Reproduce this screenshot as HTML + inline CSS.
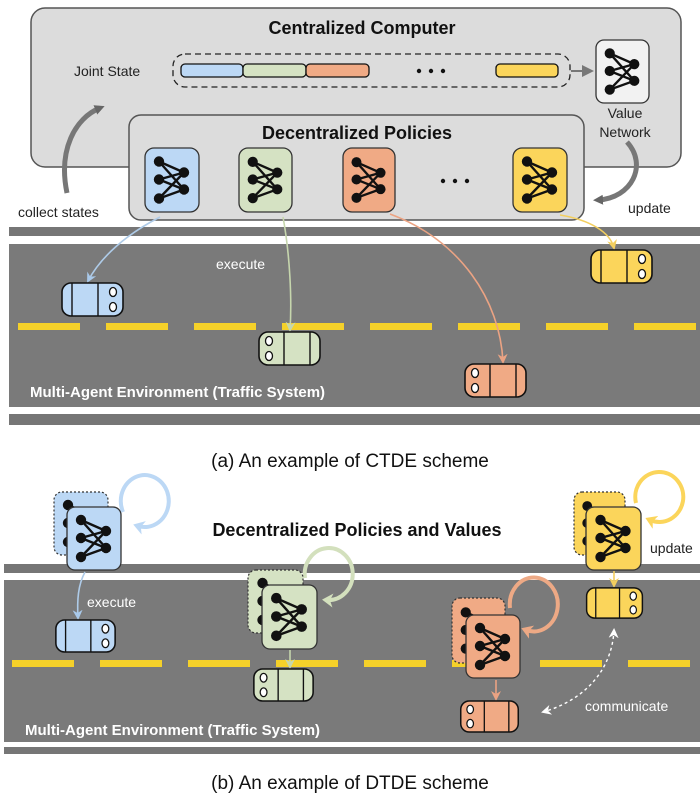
<!DOCTYPE html>
<html><head><meta charset="utf-8"><style>
html,body{margin:0;padding:0;background:#fff}
svg{display:block;font-family:"Liberation Sans",Arial,sans-serif}
</style></head><body>
<svg width="700" height="803" viewBox="0 0 700 803" xmlns="http://www.w3.org/2000/svg">
<defs>
<symbol id="net" viewBox="0 0 54 63">
<g stroke="#111" stroke-width="2.4">
<line x1="14" y1="13" x2="39" y2="24"/><line x1="14" y1="13" x2="39" y2="41"/>
<line x1="14" y1="31" x2="39" y2="24"/><line x1="14" y1="31" x2="39" y2="41"/>
<line x1="14" y1="50" x2="39" y2="24"/><line x1="14" y1="50" x2="39" y2="41"/>
</g>
<g fill="#111"><circle cx="14" cy="13" r="5.2"/><circle cx="14" cy="31" r="5.2"/><circle cx="14" cy="50" r="5.2"/><circle cx="39" cy="24" r="5.2"/><circle cx="39" cy="41" r="5.2"/></g>
</symbol>
<symbol id="car" viewBox="0 0 63 35">
<rect x="1" y="1" width="61" height="33" rx="9" stroke="#111" stroke-width="1.6"/>
<line x1="11" y1="1" x2="11" y2="34" stroke="#111" stroke-width="1.4"/>
<line x1="37" y1="1" x2="37" y2="34" stroke="#111" stroke-width="1.4"/>
<ellipse cx="52" cy="10" rx="3.5" ry="4.5" fill="#fff" stroke="#111" stroke-width="1.3"/>
<ellipse cx="52" cy="25" rx="3.5" ry="4.5" fill="#fff" stroke="#111" stroke-width="1.3"/>
</symbol>
<marker id="mg" markerWidth="6" markerHeight="6" refX="4" refY="3" orient="auto" markerUnits="strokeWidth"><path d="M0,0 L6,3 L0,6 z" fill="#777"/></marker>
<marker id="mgs" markerWidth="10" markerHeight="10" refX="5" refY="5" orient="auto" markerUnits="userSpaceOnUse"><path d="M0,0 L10,5 L0,10 z" fill="#666"/></marker>
<marker id="mb" markerWidth="10" markerHeight="10" refX="8" refY="5" orient="auto" markerUnits="userSpaceOnUse"><path d="M0,0 L10,5 L0,10 L3,5 z" fill="#a9c9ea"/></marker>
<marker id="mgr" markerWidth="10" markerHeight="10" refX="8" refY="5" orient="auto" markerUnits="userSpaceOnUse"><path d="M0,0 L10,5 L0,10 L3,5 z" fill="#c6d6ad"/></marker>
<marker id="mo" markerWidth="10" markerHeight="10" refX="8" refY="5" orient="auto" markerUnits="userSpaceOnUse"><path d="M0,0 L10,5 L0,10 L3,5 z" fill="#eba383"/></marker>
<marker id="my" markerWidth="10" markerHeight="10" refX="8" refY="5" orient="auto" markerUnits="userSpaceOnUse"><path d="M0,0 L10,5 L0,10 L3,5 z" fill="#f3cf5f"/></marker>
<marker id="mw" markerWidth="10" markerHeight="10" refX="8" refY="5" orient="auto-start-reverse" markerUnits="userSpaceOnUse"><path d="M0,0 L10,5 L0,10 L3,5 z" fill="#fff"/></marker>
<marker id="lb" markerWidth="14" markerHeight="14" refX="6" refY="7" orient="auto" markerUnits="userSpaceOnUse"><path d="M0,0 L11,7 L0,14 L3,7 z" fill="#bcd8f5"/></marker>
<marker id="lg" markerWidth="14" markerHeight="14" refX="6" refY="7" orient="auto" markerUnits="userSpaceOnUse"><path d="M0,0 L11,7 L0,14 L3,7 z" fill="#d3e0bd"/></marker>
<marker id="lo" markerWidth="14" markerHeight="14" refX="6" refY="7" orient="auto" markerUnits="userSpaceOnUse"><path d="M0,0 L11,7 L0,14 L3,7 z" fill="#eda985"/></marker>
<marker id="ly" markerWidth="14" markerHeight="14" refX="6" refY="7" orient="auto" markerUnits="userSpaceOnUse"><path d="M0,0 L11,7 L0,14 L3,7 z" fill="#fbd55b"/></marker>
</defs>

<!-- TOP ROAD -->
<rect x="9" y="227" width="691" height="9" fill="#767676"/>
<rect x="9" y="244" width="691" height="163" fill="#7a7a7a"/>
<rect x="9" y="414" width="691" height="11" fill="#767676"/>
<g fill="#f5d12a">
<rect x="18" y="323" width="62" height="7"/><rect x="106" y="323" width="62" height="7"/><rect x="194" y="323" width="62" height="7"/><rect x="282" y="323" width="62" height="7"/><rect x="370" y="323" width="62" height="7"/><rect x="458" y="323" width="62" height="7"/><rect x="546" y="323" width="62" height="7"/><rect x="634" y="323" width="62" height="7"/>
</g>

<!-- Centralized box -->
<rect x="31" y="8" width="650" height="159" rx="14" fill="#dcdcdc" stroke="#555" stroke-width="1.5"/>
<text x="362" y="34" font-size="18" font-weight="bold" text-anchor="middle" fill="#111">Centralized Computer</text>
<text x="74" y="76" font-size="14" fill="#222">Joint State</text>
<rect x="173" y="54" width="397" height="33" rx="12" fill="none" stroke="#222" stroke-width="1.3" stroke-dasharray="6,4"/>
<rect x="181" y="64" width="62" height="13" rx="4" fill="#bcd8f5" stroke="#111" stroke-width="1.3"/>
<rect x="243" y="64" width="63" height="13" rx="4" fill="#d5e2c3" stroke="#111" stroke-width="1.3"/>
<rect x="306" y="64" width="63" height="13" rx="4" fill="#f0aa85" stroke="#111" stroke-width="1.3"/>
<rect x="496" y="64" width="62" height="13" rx="4" fill="#fbd55b" stroke="#111" stroke-width="1.3"/>
<g fill="#111"><circle cx="419" cy="71" r="2.2"/><circle cx="431" cy="71" r="2.2"/><circle cx="443" cy="71" r="2.2"/></g>
<line x1="571" y1="71" x2="590" y2="71" stroke="#777" stroke-width="2" marker-end="url(#mg)"/>
<rect x="596" y="40" width="53" height="63" rx="8" fill="#f2f2f2" stroke="#333" stroke-width="1.3"/>
<use href="#net" x="596" y="40" width="53" height="63"/>
<text x="625" y="118" font-size="14" text-anchor="middle" fill="#222">Value</text>
<text x="625" y="137" font-size="14" text-anchor="middle" fill="#222">Network</text>

<path d="M67,193 C58,150 75,118 100,108" fill="none" stroke="#777" stroke-width="5" marker-end="url(#mgs)"/>
<text x="18" y="217" font-size="14" fill="#222">collect states</text>
<path d="M627,142 C648,165 632,198 598,200" fill="none" stroke="#777" stroke-width="5" marker-end="url(#mgs)"/>
<text x="628" y="213" font-size="14" fill="#222">update</text>

<rect x="129" y="115" width="455" height="105" rx="12" fill="#dcdcdc" stroke="#555" stroke-width="1.5"/>
<text x="357" y="139" font-size="18" font-weight="bold" text-anchor="middle" fill="#111">Decentralized Policies</text>
<rect x="145" y="148" width="54" height="64" rx="9" fill="#bcd8f5" stroke="#333" stroke-width="1.3"/>
<use href="#net" x="145" y="148" width="54" height="64"/>
<rect x="239" y="148" width="53" height="64" rx="9" fill="#d5e2c3" stroke="#333" stroke-width="1.3"/>
<use href="#net" x="239" y="148" width="53" height="64"/>
<rect x="343" y="148" width="52" height="64" rx="9" fill="#f0aa85" stroke="#333" stroke-width="1.3"/>
<use href="#net" x="343" y="148" width="52" height="64"/>
<rect x="513" y="148" width="54" height="64" rx="9" fill="#fbd55b" stroke="#333" stroke-width="1.3"/>
<use href="#net" x="513" y="148" width="54" height="64"/>
<g fill="#111"><circle cx="443" cy="181" r="2.2"/><circle cx="455" cy="181" r="2.2"/><circle cx="467" cy="181" r="2.2"/></g>

<path d="M160,217 C125,235 100,258 88,281" fill="none" stroke="#aecbe8" stroke-width="1.6" marker-end="url(#mb)"/>
<path d="M283,217 C290,255 292,300 290,330" fill="none" stroke="#c6d6ad" stroke-width="1.6" marker-end="url(#mgr)"/>
<path d="M390,214 C460,240 500,300 503,362" fill="none" stroke="#eba383" stroke-width="1.6" marker-end="url(#mo)"/>
<path d="M560,215 C590,220 610,232 614,248" fill="none" stroke="#f3cf5f" stroke-width="1.6" marker-end="url(#my)"/>
<text x="216" y="269" font-size="14" fill="#fff">execute</text>

<use href="#car" x="61" y="282" width="63" height="35" fill="#bcd8f5"/>
<use href="#car" x="-321" y="331" width="63" height="35" fill="#d5e2c3" transform="scale(-1,1)"/>
<use href="#car" x="-527" y="363" width="63" height="35" fill="#f0aa85" transform="scale(-1,1)"/>
<use href="#car" x="590" y="249" width="63" height="35" fill="#fbd55b"/>
<text x="30" y="397" font-size="15" font-weight="bold" fill="#fff">Multi-Agent Environment (Traffic System)</text>

<text x="350" y="467" font-size="19" text-anchor="middle" fill="#111">(a) An example of CTDE scheme</text>

<!-- BOTTOM ROAD -->
<rect x="4" y="564" width="696" height="9" fill="#767676"/>
<rect x="4" y="580" width="696" height="162" fill="#7a7a7a"/>
<rect x="4" y="747" width="696" height="7" fill="#767676"/>
<g fill="#f5d12a">
<rect x="12" y="660" width="62" height="7"/><rect x="100" y="660" width="62" height="7"/><rect x="188" y="660" width="62" height="7"/><rect x="276" y="660" width="62" height="7"/><rect x="364" y="660" width="62" height="7"/><rect x="452" y="660" width="62" height="7"/><rect x="540" y="660" width="62" height="7"/><rect x="628" y="660" width="62" height="7"/>
</g>

<text x="357" y="536" font-size="18" font-weight="bold" text-anchor="middle" fill="#111">Decentralized Policies and Values</text>

<path d="M123,512 A24,26 0 1 1 138,526" fill="none" stroke="#bcd8f5" stroke-width="4" marker-end="url(#lb)"/>
<rect x="54" y="492" width="54" height="63" rx="8" fill="#bcd8f5" stroke="#333" stroke-width="1.2" stroke-dasharray="2,2"/>
<use href="#net" x="54" y="492" width="54" height="63"/>
<rect x="67" y="507" width="54" height="63" rx="8" fill="#bcd8f5" stroke="#333" stroke-width="1.3"/>
<use href="#net" x="67" y="507" width="54" height="63"/>
<path d="M85,572 C78,585 77,600 78,618" fill="none" stroke="#aecbe8" stroke-width="1.6" marker-end="url(#mb)"/>
<text x="87" y="607" font-size="14" fill="#fff">execute</text>
<use href="#car" x="54" y="619" width="63" height="34" fill="#bcd8f5"/>

<path d="M305,578 A24,26 0 1 1 327,600" fill="none" stroke="#d3e0bd" stroke-width="4" marker-end="url(#lg)"/>
<rect x="248" y="570" width="55" height="63" rx="8" fill="#d5e2c3" stroke="#333" stroke-width="1.2" stroke-dasharray="2,2"/>
<use href="#net" x="248" y="570" width="55" height="63"/>
<rect x="262" y="585" width="55" height="64" rx="8" fill="#d5e2c3" stroke="#333" stroke-width="1.3"/>
<use href="#net" x="262" y="585" width="55" height="64"/>
<line x1="290" y1="650" x2="290" y2="667" stroke="#c6d6ad" stroke-width="1.6" marker-end="url(#mgr)"/>
<use href="#car" x="-315" y="668" width="63" height="34" fill="#d5e2c3" transform="scale(-1,1)"/>

<path d="M510,608 A24,27 0 1 1 526,630" fill="none" stroke="#eda985" stroke-width="4" marker-end="url(#lo)"/>
<rect x="452" y="598" width="53" height="65" rx="8" fill="#f0aa85" stroke="#333" stroke-width="1.2" stroke-dasharray="2,2"/>
<use href="#net" x="452" y="598" width="53" height="65"/>
<rect x="466" y="615" width="54" height="63" rx="8" fill="#f0aa85" stroke="#333" stroke-width="1.3"/>
<use href="#net" x="466" y="615" width="54" height="63"/>
<line x1="496" y1="680" x2="496" y2="699" stroke="#eba383" stroke-width="1.6" marker-end="url(#mo)"/>
<use href="#car" x="-520" y="700" width="61" height="33" fill="#f0aa85" transform="scale(-1,1)"/>

<path d="M636,503 A24,25 0 1 1 650,520" fill="none" stroke="#fbd55b" stroke-width="4" marker-end="url(#ly)"/>
<rect x="574" y="492" width="51" height="63" rx="8" fill="#fbd55b" stroke="#333" stroke-width="1.2" stroke-dasharray="2,2"/>
<use href="#net" x="574" y="492" width="51" height="63"/>
<rect x="586" y="507" width="55" height="63" rx="8" fill="#fbd55b" stroke="#333" stroke-width="1.3"/>
<use href="#net" x="586" y="507" width="55" height="63"/>
<text x="650" y="553" font-size="14" fill="#222">update</text>
<line x1="614" y1="571" x2="614" y2="586" stroke="#f3cf5f" stroke-width="1.6" marker-end="url(#my)"/>
<use href="#car" x="584" y="587" width="61" height="32" fill="#fbd55b"/>

<path d="M614,630 C612,670 585,700 543,712" fill="none" stroke="#fff" stroke-width="1.4" stroke-dasharray="3,3" marker-start="url(#mw)" marker-end="url(#mw)"/>
<text x="585" y="711" font-size="14" fill="#fff">communicate</text>
<text x="25" y="735" font-size="15" font-weight="bold" fill="#fff">Multi-Agent Environment (Traffic System)</text>

<text x="350" y="789" font-size="19" text-anchor="middle" fill="#111">(b) An example of DTDE scheme</text>
</svg>
</body></html>
